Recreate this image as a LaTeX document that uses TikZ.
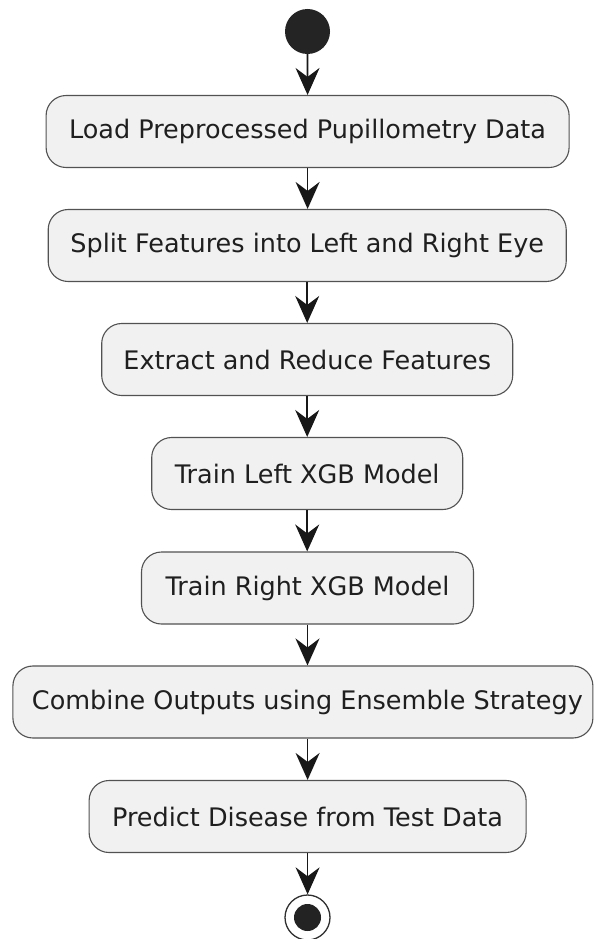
\documentclass[tikz,border=0pt]{standalone}
\usepackage{fontspec}
\setmainfont{DejaVu Sans}
\usetikzlibrary{arrows.meta}

\definecolor{actfill}{HTML}{F1F1F1}
\definecolor{actline}{HTML}{181818}

\tikzset{
  action/.style={draw=actline!75, fill=actfill, line width=1.1pt,
    rounded corners=20pt, inner sep=0pt, minimum height=72pt,
    font=\fontsize{25.5pt}{30pt}\selectfont, text=black!88},
  flow/.style={draw=actline, line width=1.6pt,
    -{Stealth[length=27pt,width=24pt,inset=9pt]}},
}

\begin{document}
\begin{tikzpicture}[x=1pt,y=-1pt]
  \useasboundingbox (0,0) rectangle (594,939);

  % initial node
  \node[circle, fill=actline!95, minimum size=45pt, inner sep=0pt] (start) at (307.5,31.5) {};

  % activities
  \node[action, minimum width=523pt] (load)    at (307.6,131.5) {Load Preprocessed Pupillometry Data};
  \node[action, minimum width=518pt] (split)   at (307.2,245.5) {Split Features into Left and Right Eye};
  \node[action, minimum width=411pt] (extract) at (307.2,359.5) {Extract and Reduce Features};
  \node[action, minimum width=311pt] (trainl)  at (307.2,473.5) {Train Left XGB Model};
  \node[action, minimum width=332pt] (trainr)  at (307.5,588)   {Train Right XGB Model};
  \node[action, minimum width=580pt] (combine) at (302.9,702)   {\hspace*{9pt}Combine Outputs using Ensemble Strategy};
  \node[action, minimum width=437pt] (predict) at (307.6,816.5) {Predict Disease from Test Data};

  % final node
  \node[circle, draw=actline!90, line width=1.3pt, minimum size=45pt, inner sep=0pt] (stop) at (307.5,917.5) {};
  \fill[actline!95] (stop.center) circle[radius=13.5pt];

  % control flow
  \draw[flow] (start) -- (load);
  \draw[flow] (load.south) -- (load.south |- split.north);
  \draw[flow] (split.south) -- (split.south |- extract.north);
  \draw[flow] (extract.south) -- (extract.south |- trainl.north);
  \draw[flow] (trainl.south) -- (trainl.south |- trainr.north);
  \draw[flow] (trainr.south) -- (trainr.south |- combine.north);
  \draw[flow] (combine.south -| predict.north) -- (predict.north);
  \draw[flow] (predict.south) -- (predict.south |- stop.north);
\end{tikzpicture}
\end{document}
